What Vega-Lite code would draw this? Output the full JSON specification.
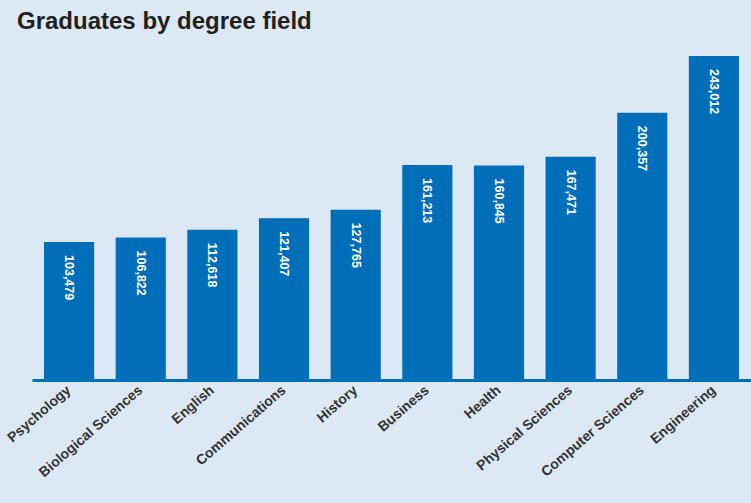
{
  "$schema": "https://vega.github.io/schema/vega-lite/v6.json",
  "autosize": "none",
  "width": 719,
  "height": 324,
  "padding": {"left": 32, "top": 56, "right": 0, "bottom": 123},
  "background": "#dce8f4",
  "title": {
    "text": "Graduates by degree field",
    "anchor": "start",
    "frame": "group",
    "dx": -15,
    "offset": 22,
    "font": "Liberation Sans",
    "fontSize": 24,
    "fontWeight": "bold",
    "color": "#231f20"
  },
  "data": {
    "values": [
      {"field": "Psychology", "graduates": 103479},
      {"field": "Biological Sciences", "graduates": 106822},
      {"field": "English", "graduates": 112618},
      {"field": "Communications", "graduates": 121407},
      {"field": "History", "graduates": 127765},
      {"field": "Business", "graduates": 161213},
      {"field": "Health", "graduates": 160845},
      {"field": "Physical Sciences", "graduates": 167471},
      {"field": "Computer Sciences", "graduates": 200357},
      {"field": "Engineering", "graduates": 243012}
    ]
  },
  "encoding": {
    "x": {
      "field": "field",
      "type": "nominal",
      "sort": null,
      "scale": {"paddingInner": 0.3, "paddingOuter": 0.1675},
      "axis": {
        "title": null,
        "ticks": false,
        "domainColor": "#0070b8",
        "domainWidth": 3,
        "labelAngle": -41,
        "labelAlign": "right",
        "labelBaseline": "middle",
        "labelPadding": 8,
        "labelFont": "Liberation Sans",
        "labelFontSize": 14,
        "labelFontWeight": "bold",
        "labelColor": "#333333"
      }
    },
    "y": {
      "field": "graduates",
      "type": "quantitative",
      "scale": {"domain": [0, 243012], "nice": false},
      "axis": null
    }
  },
  "layer": [
    {"mark": {"type": "bar", "color": "#006eb8"}},
    {
      "mark": {
        "type": "text",
        "angle": 90,
        "align": "left",
        "baseline": "middle",
        "dx": 13,
        "color": "white",
        "font": "Liberation Sans",
        "fontSize": 12.5,
        "fontWeight": "bold"
      },
      "encoding": {
        "text": {"field": "graduates", "type": "quantitative", "format": ","}
      }
    }
  ],
  "config": {"view": {"stroke": null}}
}
